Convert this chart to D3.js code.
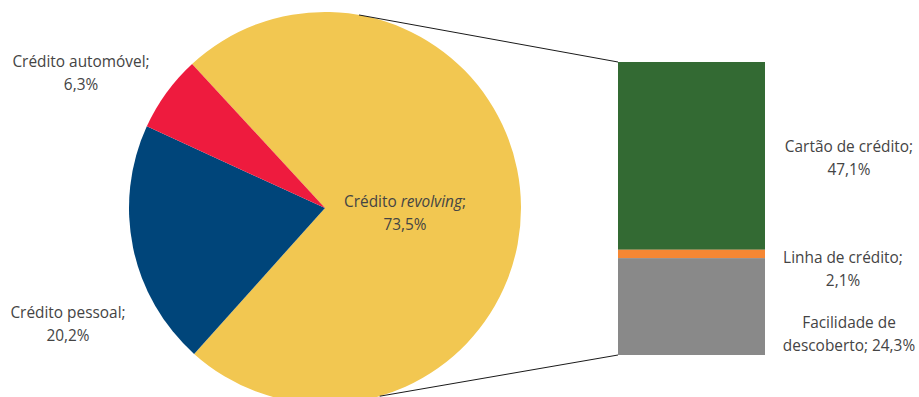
<!DOCTYPE html>
<html>
<head>
<meta charset="utf-8">
<script src="https://cdn.jsdelivr.net/npm/d3@7"></script>
<style>
  html, body { margin: 0; padding: 0; background: #fff; }
  svg text { font-family: "Open Sans", sans-serif; font-size: 15.4px; font-weight: 400; fill: #444; }
</style>
</head>
<body>
<svg id="chart" width="919" height="397"></svg>
<script>
// Pie: composition of consumer credit (%)
const pieCategories = ["Crédito revolving", "Crédito pessoal", "Crédito automóvel"];
const pieValues = [73.5, 20.2, 6.3];
const pieColors = ["#F2C751", "#00457A", "#EE1B3E"];

// Stacked bar: breakdown of revolving credit (%)
const barCategories = ["Cartão de crédito", "Linha de crédito", "Facilidade de descoberto"];
const barValues = [47.1, 2.1, 24.3];
const barColors = ["#336A33", "#F58733", "#898989"];

const svg = d3.select("#chart");

// ---- pie ----
const cx = 325, cy = 208, radius = 196;
const startAngle = -42.7 * Math.PI / 180;
const pie = d3.pie().sort(null).startAngle(startAngle).endAngle(startAngle + 2 * Math.PI);
const arcs = pie(pieValues);
const arc = d3.arc().innerRadius(0).outerRadius(radius);

const gPie = svg.append("g").attr("transform", `translate(${cx},${cy})`);
gPie.selectAll("path").data(arcs).join("path")
  .attr("d", arc)
  .attr("fill", (d, i) => pieColors[i]);

// ---- stacked bar ----
const barX = 618, barW = 147, barTop = 62, barBottom = 355;
const total = d3.sum(barValues);
const y = d3.scaleLinear().domain([0, total]).range([barTop, barBottom]);
let acc = 0;
const stacks = barValues.map(v => { const s = { y0: acc, y1: acc + v }; acc += v; return s; });
svg.append("g").selectAll("rect").data(stacks).join("rect")
  .attr("x", barX)
  .attr("width", barW)
  .attr("y", d => y(d.y0))
  .attr("height", d => y(d.y1) - y(d.y0))
  .attr("fill", (d, i) => barColors[i]);

// ---- connector lines from pie edge to bar corners ----
const pt = a => [cx + radius * Math.sin(a), cy - radius * Math.cos(a)];
const topPt = pt(10 * Math.PI / 180);
const botPt = pt(163.8 * Math.PI / 180);
svg.append("line").attr("x1", topPt[0]).attr("y1", topPt[1])
  .attr("x2", barX).attr("y2", y(0)).attr("stroke", "#1a1a1a").attr("stroke-width", 1);
svg.append("line").attr("x1", botPt[0]).attr("y1", botPt[1])
  .attr("x2", barX).attr("y2", y(total)).attr("stroke", "#1a1a1a").attr("stroke-width", 1);

// ---- labels ----
const fmt = v => d3.format(".1f")(v).replace(".", ",") + "%";
function label(x, yb, lines) {
  const t = svg.append("text").attr("text-anchor", "middle").attr("x", x).attr("y", yb);
  lines.forEach((ln, i) => {
    const ts = t.append("tspan").attr("x", x).attr("dy", i === 0 ? 0 : 22.5);
    ln.forEach(part => {
      const s = ts.append("tspan").text(part.t);
      if (part.i) s.attr("font-style", "italic");
    });
  });
}

label(405, 207, [[{ t: "Crédito " }, { t: "revolving", i: true }, { t: ";" }], [{ t: fmt(pieValues[0]) }]]);
label(68, 318, [[{ t: pieCategories[1] + ";" }], [{ t: fmt(pieValues[1]) }]]);
label(81, 67, [[{ t: pieCategories[2] + ";" }], [{ t: fmt(pieValues[2]) }]]);

label(849, 152, [[{ t: barCategories[0] + ";" }], [{ t: fmt(barValues[0]) }]]);
label(843, 263, [[{ t: barCategories[1] + ";" }], [{ t: fmt(barValues[1]) }]]);
label(849, 328, [[{ t: "Facilidade de" }], [{ t: "descoberto; " + fmt(barValues[2]) }]]);
</script>
</body>
</html>
